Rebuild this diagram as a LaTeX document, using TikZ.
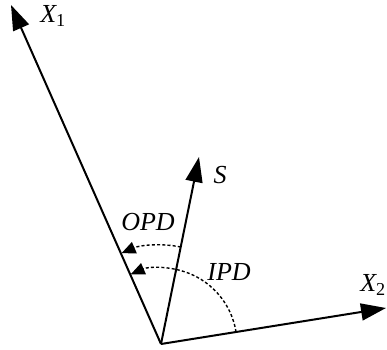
\documentclass[tikz,border=0pt]{standalone}
\usepackage{fontspec}
\setmainfont{Liberation Serif}
\usetikzlibrary{arrows.meta}
\begin{document}
\begin{tikzpicture}[x=1pt,y=1pt,
  axis/.style={line width=2pt,-{Triangle[length=25pt,width=17pt]}},
  darc/.style={line width=1.4pt,dash pattern=on 3pt off 2.2pt,-{Triangle[length=14pt,width=12pt]}},
  lbl/.style={font=\fontsize{26}{28}\selectfont\itshape,inner sep=0pt}]
\useasboundingbox (0,0) rectangle (387,349);
\coordinate (O) at (161,5);
\coordinate (X1) at (11,344);
\coordinate (S) at (199,192);
\coordinate (X2) at (386,41);
\draw[axis] (O) -- (X1);
\draw[axis] (O) -- (S);
\draw[axis] (O) -- (X2);
\draw[darc] ([shift={(9.1:76)}]O) arc[start angle=9.1,end angle=113.5,radius=76];
\draw[darc] ([shift={(78.5:99)}]O) arc[start angle=78.5,end angle=113.5,radius=99];
\node[lbl] (lx1) at (53,333) {X\textsubscript{\upshape 1}};
\node[lbl] (lx2) at (373,64) {X\textsubscript{\upshape 2}};
\node[lbl] (ls) at (220,174) {S};
\node[lbl] (lopd) at (148,127) {OPD};
\node[lbl] (lipd) at (229,77) {IPD};
\end{tikzpicture}
\end{document}
